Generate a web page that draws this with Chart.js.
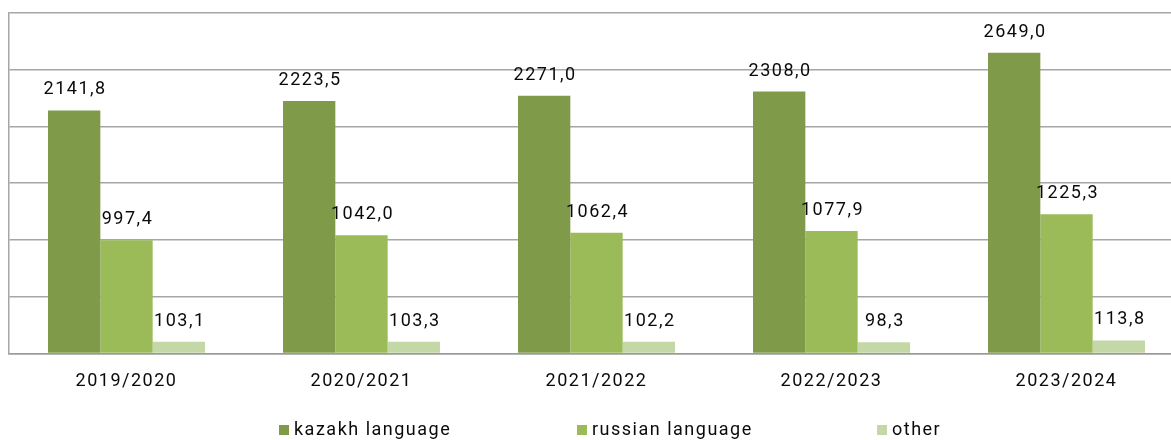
<!DOCTYPE html>
<html>
<head>
<meta charset="utf-8">
<script src="https://cdn.jsdelivr.net/npm/chart.js@4"></script>
<style>
  html, body { margin: 0; padding: 0; background: #fff; overflow: hidden; }
  #wrap { width: 1190px; height: 440px; position: relative; }
</style>
</head>
<body>
<div id="wrap"><canvas id="c"></canvas></div>
<script>
const categories = ['2019/2020', '2020/2021', '2021/2022', '2022/2023', '2023/2024'];
const seriesNames = ['kazakh language', 'russian language', 'other'];
const kazakhValues = [2141.8, 2223.5, 2271.0, 2308.0, 2649.0];
const russianValues = [997.4, 1042.0, 1062.4, 1077.9, 1225.3];
const otherValues = [103.1, 103.3, 102.2, 98.3, 113.8];
const yMax = 3000;
const yStep = 500;

const colors = ['#7f9b4a', '#9bbb59', '#c4d7a7'];
const FONT = '18px Roboto';
const SPACING = '1.5px';

function fmt(v) { return v.toFixed(1).replace('.', ','); }

const spacingPlugin = {
  id: 'spacing',
  beforeDraw(chart) { chart.ctx.letterSpacing = SPACING; }
};

const labelPlugin = {
  id: 'valueLabels',
  afterDatasetsDraw(chart) {
    const ctx = chart.ctx;
    ctx.save();
    ctx.letterSpacing = SPACING;
    ctx.font = FONT;
    ctx.fillStyle = '#0a0a0a';
    ctx.textAlign = 'center';
    ctx.textBaseline = 'alphabetic';
    chart.data.datasets.forEach((ds, i) => {
      const meta = chart.getDatasetMeta(i);
      meta.data.forEach((bar, j) => {
        ctx.fillText(fmt(ds.data[j]), bar.x + 1, bar.y - 16);
      });
    });
    ctx.restore();
  }
};

const legendPlugin = {
  id: 'customLegend',
  afterDraw(chart) {
    const ctx = chart.ctx;
    const xs = [279, 577, 877];
    ctx.save();
    ctx.letterSpacing = SPACING;
    ctx.font = FONT;
    ctx.textAlign = 'left';
    ctx.textBaseline = 'middle';
    chart.data.datasets.forEach((ds, i) => {
      ctx.fillStyle = ds.backgroundColor;
      ctx.fillRect(xs[i], 425, 10, 10);
      ctx.fillStyle = '#0a0a0a';
      ctx.fillText(ds.label, xs[i] + 15, 430);
    });
    ctx.restore();
  }
};

new Chart(document.getElementById('c'), {
  type: 'bar',
  data: {
    labels: categories,
    datasets: [
      { label: seriesNames[0], data: kazakhValues, backgroundColor: colors[0] },
      { label: seriesNames[1], data: russianValues, backgroundColor: colors[1] },
      { label: seriesNames[2], data: otherValues, backgroundColor: colors[2] }
    ]
  },
  options: {
    responsive: true,
    maintainAspectRatio: false,
    animation: false,
    layout: { padding: { left: 9, right: 6, top: 13, bottom: 31 } },
    datasets: { bar: { categoryPercentage: 0.668, barPercentage: 1.0 } },
    plugins: {
      legend: { display: false },
      tooltip: { enabled: false }
    },
    scales: {
      x: {
        grid: { display: false, drawTicks: false, tickLength: 0 },
        border: { display: true, color: '#9a9a9a', width: 1.5 },
        ticks: { font: { family: 'Roboto', size: 18 }, color: '#0a0a0a', padding: 17, maxRotation: 0 }
      },
      y: {
        min: 0,
        max: yMax,
        ticks: { display: false, stepSize: yStep },
        grid: { color: '#a6a6a6', lineWidth: 1.5, drawTicks: false, tickLength: 0 },
        border: { display: true, color: '#a6a6a6', width: 1.5 }
      }
    }
  },
  plugins: [spacingPlugin, labelPlugin, legendPlugin]
});
</script>
</body>
</html>
